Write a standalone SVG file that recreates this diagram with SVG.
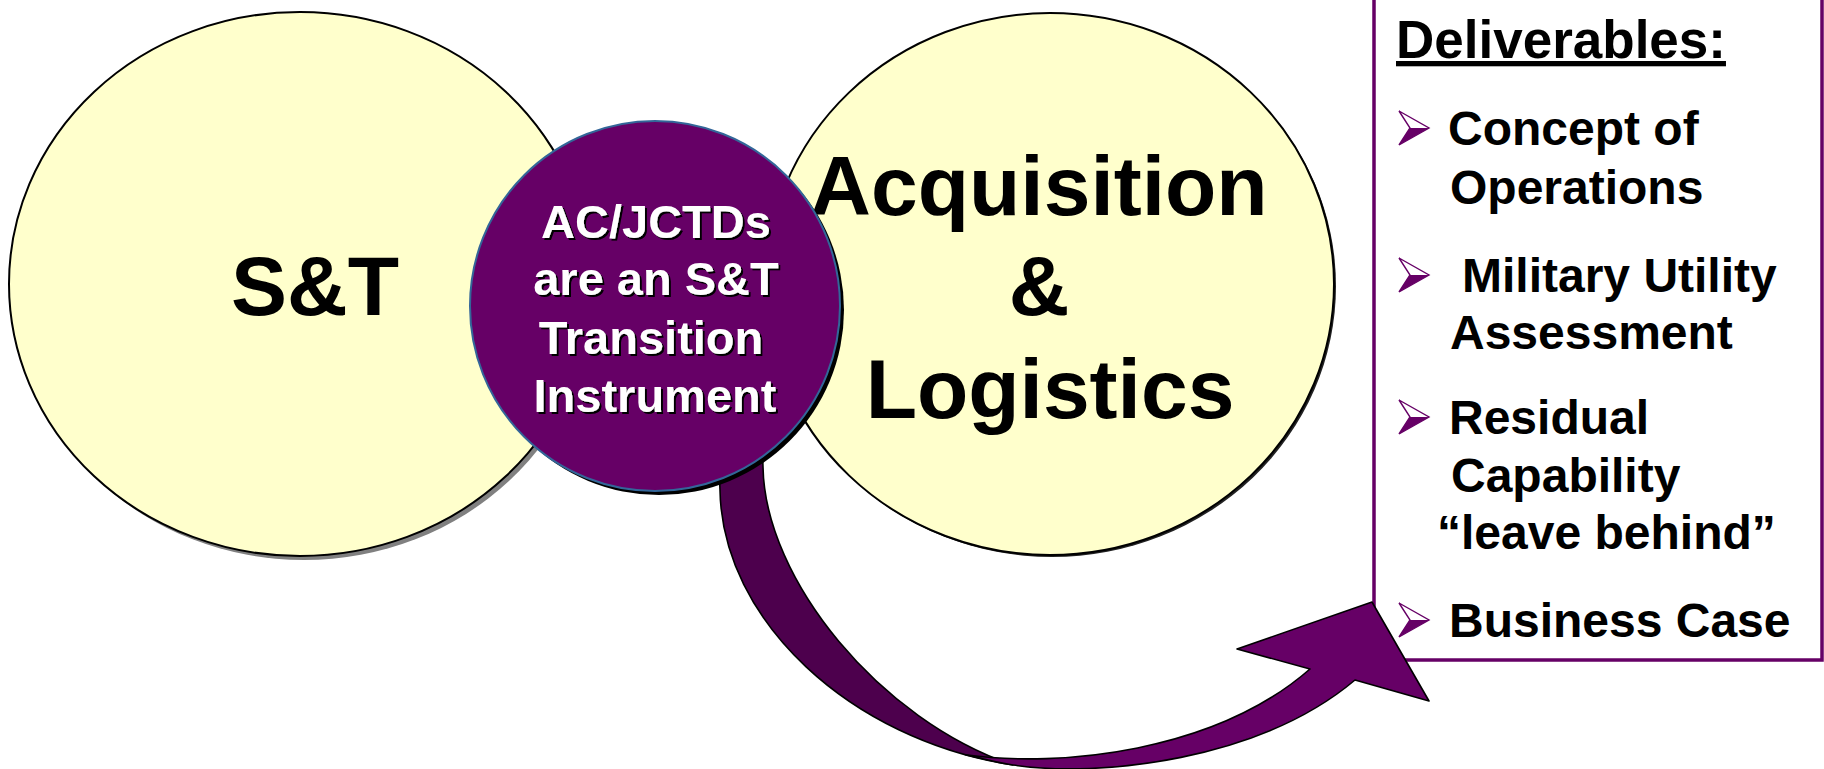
<svg xmlns="http://www.w3.org/2000/svg" width="1824" height="769" viewBox="0 0 1824 769">
<style>
  .ell { fill: #FFFFCC; stroke: #000; stroke-width: 2; }
  .big { font-family: "Liberation Sans", Arial, sans-serif; font-weight: bold; font-size: 84px; fill: #000; text-anchor: middle; }
  .ctext { font-family: "Liberation Sans", Arial, sans-serif; font-weight: bold; font-size: 47px; fill: #fff; text-anchor: middle; }
  .item { font-family: "Liberation Sans", Arial, sans-serif; font-weight: bold; font-size: 48px; fill: #000; }
  .head { font-family: "Liberation Sans", Arial, sans-serif; font-weight: bold; font-size: 53px; fill: #000; }
  .edge { stroke: #000; stroke-width: 1.6; stroke-linejoin: round; }
</style>
<defs>
  <filter id="tshadow" x="-10%" y="-10%" width="120%" height="130%">
    <feDropShadow dx="2" dy="2" stdDeviation="0" flood-color="#000" flood-opacity="1"/>
  </filter>
  <g id="bullet">
    <path d="M0,0 L30,17 L0,34 L11,17 Z" fill="#fff" stroke="#660066" stroke-width="1.4" stroke-linejoin="miter"/>
    <path d="M11,17 L30,17 L0,34 Z" fill="#660066"/>
  </g>
</defs>
<rect width="1824" height="769" fill="#fff"/>

<g id="node-deliverables">
  <rect x="1374" y="-10" width="448" height="670" fill="#fff" stroke="#660066" stroke-width="3.5"/>
  <text class="head" x="1396" y="58" text-decoration="underline">Deliverables:</text>
  <use href="#bullet" x="1399" y="111"/>
  <text class="item" x="1448" y="145">Concept of</text>
  <text class="item" x="1450" y="204">Operations</text>
  <use href="#bullet" x="1399" y="258"/>
  <text class="item" x="1462" y="292">Military Utility</text>
  <text class="item" x="1450" y="349">Assessment</text>
  <use href="#bullet" x="1399" y="400"/>
  <text class="item" x="1449" y="434">Residual</text>
  <text class="item" x="1451" y="492">Capability</text>
  <text class="item" x="1437" y="549">“leave behind”</text>
  <use href="#bullet" x="1399" y="603"/>
  <text class="item" x="1449" y="637">Business Case</text>
</g>

<g id="node-st">
  <ellipse cx="304" cy="288" rx="291" ry="272" fill="#808080"/>
  <ellipse class="ell" cx="300" cy="284" rx="291" ry="272"/>
  <text class="big" x="315" y="315">S&amp;T</text>
</g>

<g id="node-acq">
  <ellipse cx="1052" cy="286" rx="284" ry="271" fill="#222"/>
  <ellipse class="ell" cx="1050" cy="284" rx="284" ry="271"/>
  <text class="big" x="1039" y="215">Acquisition</text>
  <text class="big" x="1039" y="315">&amp;</text>
  <text class="big" x="1050" y="418">Logistics</text>
</g>

<g id="connectors">
  <path class="edge" fill="#4D004D" d="M718,440 L720,490 C722,620 850,740 1013,765 C880,720 765,580 763,467 L762,440 Z"/>
  <path class="edge" fill="#660066" d="M965.3,754.7 C980.75,758.45 996.7,762.5 1013,765 C1100,778 1260,760 1355,680 L1429,701 L1372,602 L1237,649 L1310,669 C1215,752 1060,768 965.3,754.7 Z"/>
</g>

<g id="node-acjctd">
  <circle cx="659" cy="310" r="185" fill="#000"/>
  <circle cx="655" cy="306" r="185" fill="#660066" stroke="#336699" stroke-width="2"/>
  <g filter="url(#tshadow)">
    <text class="ctext" x="656" y="238">AC/JCTDs</text>
    <text class="ctext" x="656" y="295">are an S&amp;T</text>
    <text class="ctext" x="651" y="354">Transition</text>
    <text class="ctext" x="655" y="412">Instrument</text>
  </g>
</g>
</svg>
